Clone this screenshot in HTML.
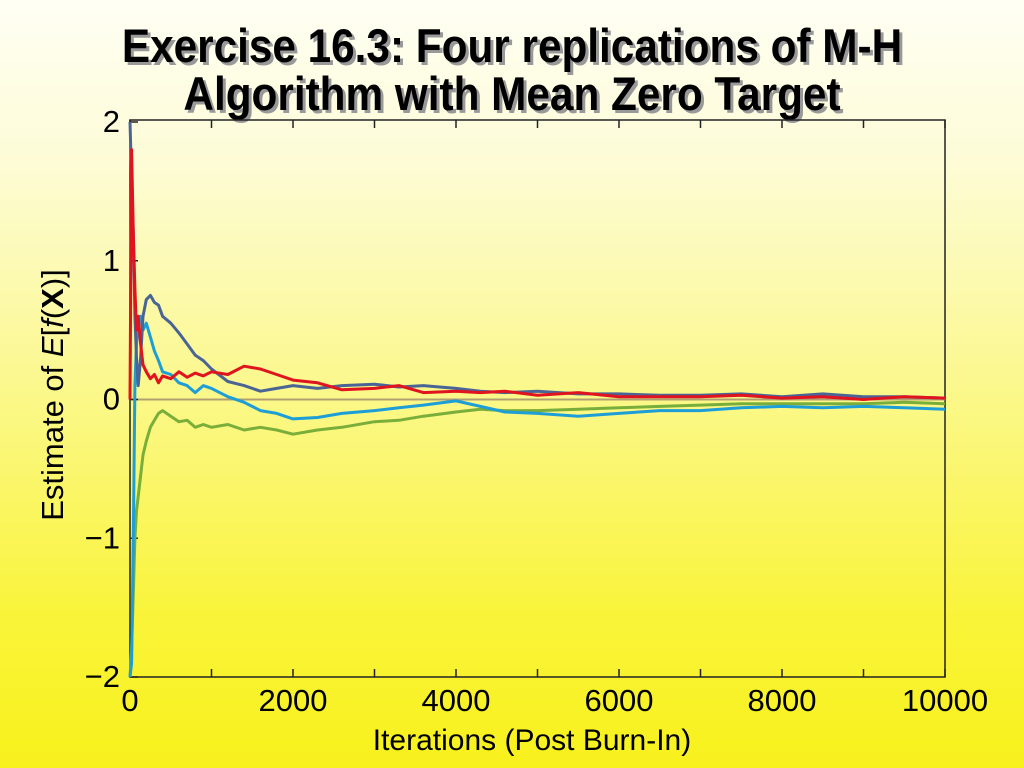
<!DOCTYPE html>
<html><head><meta charset="utf-8"><style>
html,body{margin:0;padding:0;width:1024px;height:768px;overflow:hidden}
body{background:linear-gradient(#fffff4 0%,#fdfcd8 20%,#fbf88e 50%,#f9f43a 80%,#f8f11c 100%);font-family:"Liberation Sans",sans-serif}
</style></head><body>
<svg width="1024" height="768" xmlns="http://www.w3.org/2000/svg">
<g font-family="Liberation Sans, sans-serif" font-weight="bold" font-size="47" text-anchor="middle">
<text x="512" y="62" fill="#999" transform="translate(3,3) translate(512,0) scale(0.9,1) translate(-512,0)">Exercise 16.3: Four replications of M-H</text>
<text x="512" y="62" fill="#000" transform="translate(512,0) scale(0.9,1) translate(-512,0)">Exercise 16.3: Four replications of M-H</text>
<text x="512" y="110" fill="#999" transform="translate(3,3) translate(512,0) scale(0.9,1) translate(-512,0)">Algorithm with Mean Zero Target</text>
<text x="512" y="110" fill="#000" transform="translate(512,0) scale(0.9,1) translate(-512,0)">Algorithm with Mean Zero Target</text>
</g>
<g id="plot"></g>
<text x="532" y="750" font-size="30" text-anchor="middle">Iterations (Post Burn-In)</text>
<text transform="translate(63,395) rotate(-90)" font-size="31" text-anchor="middle">Estimate of <tspan font-style="italic">E</tspan>[<tspan font-style="italic">f</tspan>(<tspan font-weight="bold">X</tspan>)]</text>
</svg>
<script>
const xTicks=[0,2000,4000,6000,8000,10000];
const yTicks=[-2,-1,0,1,2];
const iters=[0,20,40,60,80,100,130,160,200,250,300,350,400,500,600,700,800,900,1000,1200,1400,1600,1800,2000,2300,2600,3000,3300,3600,4000,4300,4600,5000,5500,6000,6500,7000,7500,8000,8500,9000,9500,10000];
const seriesNavy=[2,1.6,1.2,0.6,0.3,0.1,0.3,0.6,0.72,0.75,0.7,0.68,0.6,0.55,0.48,0.4,0.32,0.28,0.22,0.13,0.1,0.06,0.08,0.1,0.08,0.1,0.11,0.09,0.1,0.08,0.06,0.05,0.06,0.04,0.04,0.03,0.03,0.04,0.02,0.04,0.02,0.02,0.01];
const seriesRed=[0,1.8,1.2,0.8,0.5,0.6,0.4,0.25,0.2,0.15,0.18,0.12,0.17,0.15,0.2,0.16,0.19,0.17,0.2,0.18,0.24,0.22,0.18,0.14,0.12,0.07,0.08,0.1,0.05,0.06,0.05,0.06,0.03,0.05,0.02,0.02,0.02,0.03,0.01,0.02,0.0,0.02,0.01];
const seriesCyan=[-2,-1.9,-1.0,0.1,0.4,0.55,0.6,0.5,0.55,0.45,0.35,0.28,0.2,0.18,0.12,0.1,0.05,0.1,0.08,0.02,-0.02,-0.08,-0.1,-0.14,-0.13,-0.1,-0.08,-0.06,-0.04,-0.01,-0.05,-0.09,-0.1,-0.12,-0.1,-0.08,-0.08,-0.06,-0.05,-0.06,-0.05,-0.06,-0.07];
const seriesGreen=[-2,-1.8,-1.4,-1.0,-0.8,-0.7,-0.55,-0.4,-0.3,-0.2,-0.15,-0.1,-0.08,-0.12,-0.16,-0.15,-0.2,-0.18,-0.2,-0.18,-0.22,-0.2,-0.22,-0.25,-0.22,-0.2,-0.16,-0.15,-0.12,-0.09,-0.07,-0.08,-0.08,-0.07,-0.06,-0.05,-0.04,-0.03,-0.03,-0.03,-0.03,-0.02,-0.03];
const X0=130,X1=945,Y0=677,Y1=122;
function sx(v){return X0+(v-0)/(10000-0)*(X1-X0);}
function sy(v){return Y0-(v+2)/4*(Y0-Y1);}
const NS='http://www.w3.org/2000/svg';
const g=document.getElementById('plot');
function mk(t,a){const e=document.createElementNS(NS,t);for(const k in a)e.setAttribute(k,a[k]);g.appendChild(e);return e;}
const frame=mk('rect',{x:X0,y:120,width:X1-X0,height:Y0-120,fill:'none',stroke:'#222','stroke-width':1.5});


const zl=mk('line',{x1:X0,x2:X1,y1:sy(0),y2:sy(0),stroke:'#b0a070','stroke-width':2});


for(let v=0;v<=10000;v+=1000){
 const t1=mk('line',{x1:sx(v),x2:sx(v),y1:Y0,y2:Y0-8,stroke:'#222','stroke-width':1.5});
 
 
 const t2=mk('line',{x1:sx(v),x2:sx(v),y1:120,y2:128,stroke:'#222','stroke-width':1.5});
 
 
}
xTicks.forEach(v=>{const t=mk('text',{x:sx(v),y:711,'font-size':31,'text-anchor':'middle'});t.textContent=v;
 
 });
yTicks.forEach(v=>{const t=mk('text',{x:120,y:sy(v)+10,'font-size':31,'text-anchor':'end'});t.textContent=v<0?'\u2212'+(-v):v;
 
 
 const l=mk('line',{x1:X0,x2:X0+8,y1:sy(v),y2:sy(v),stroke:'#222','stroke-width':1.5});
 
 });
function draw(arr,col,name){
 const d=arr.map((v,i)=>(i?'L':'M')+sx(iters[i]).toFixed(1)+','+sy(v).toFixed(1)).join('');
 const p=mk('path',{d:d,fill:'none',stroke:col,'stroke-width':3,'stroke-linejoin':'round'});
 
 
}
draw(seriesGreen,'#7aae3a','series-green');
draw(seriesCyan,'#1e9ed6','series-cyan');
draw(seriesNavy,'#4a6496','series-navy');
draw(seriesRed,'#e0141e','series-red');
</script>
</body></html>
